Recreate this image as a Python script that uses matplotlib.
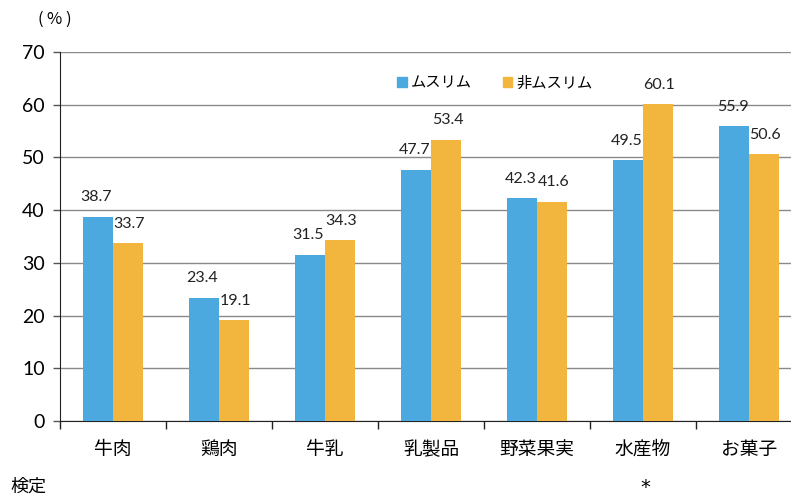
import matplotlib
matplotlib.use("Agg")
import matplotlib.pyplot as plt
from matplotlib.patches import Patch
import numpy as np

plt.rcParams['font.family'] = ['Noto Sans CJK JP', 'DejaVu Sans']
NUM_FONT = ['Lato', 'DejaVu Sans']

categories = ["牛肉", "鶏肉", "牛乳", "乳製品", "野菜果実", "水産物", "お菓子"]
muslim = [38.7, 23.4, 31.5, 47.7, 42.3, 49.5, 55.9]
non_muslim = [33.7, 19.1, 34.3, 53.4, 41.6, 60.1, 50.6]
significance = ["", "", "", "", "", "*", ""]
series_names = ["ムスリム", "非ムスリム"]

blue = "#4BA9DF"
orange = "#F2B63E"

fig = plt.figure(figsize=(7.91, 4.95), dpi=100)
ax = fig.add_axes([60 / 791, 1 - 421 / 495, 742 / 791, (421 - 52) / 495])

x = np.arange(len(categories))
w = 0.285
b1 = ax.bar(x - w / 2, muslim, w, color=blue, zorder=3)
b2 = ax.bar(x + w / 2, non_muslim, w, color=orange, zorder=3)

for bars, vals, dx in ((b1, muslim, -1), (b2, non_muslim, 1)):
    for rect, v in zip(bars, vals):
        ax.annotate(f"{v:.1f}", (rect.get_x() + rect.get_width() / 2, v),
                    xytext=(dx, 9), textcoords="offset points",
                    ha="center", va="bottom", fontsize=11.5, color="#222222",
                    family=NUM_FONT, zorder=4)

ax.set_xlim(-0.5, len(categories) - 0.5)
ax.set_ylim(0, 70)
ax.set_yticks(range(0, 71, 10))
ax.yaxis.grid(True, color="#8a8a8a", linewidth=1.0, zorder=0)
ax.set_axisbelow(True)

ax.set_xticks(x)
ax.set_xticklabels(categories, fontsize=13.5)
ax.set_xticks(np.arange(-0.5, len(categories), 1), minor=True)
ax.tick_params(axis="x", which="major", length=0, pad=13)
ax.tick_params(axis="x", which="minor", length=6, width=1, color="#222222")
ax.tick_params(axis="y", length=5, width=1, color="#555555", pad=6)
for lbl in ax.get_yticklabels():
    lbl.set_fontfamily(NUM_FONT)
    lbl.set_fontsize(14)

for side in ("top", "right"):
    ax.spines[side].set_visible(False)
ax.spines["left"].set_color("#222222")
ax.spines["bottom"].set_color("#222222")

# unit label with wide parentheses
unit_y = 1 - 19 / 495
fig.text(40 / 791, unit_y, "(", ha="center", va="center", fontsize=12)
fig.text(54 / 791, unit_y, "%", ha="center", va="center", fontsize=12)
fig.text(68 / 791, unit_y, ")", ha="center", va="center", fontsize=12)

fig.text(10 / 791, 1 - 487 / 495, "検定", ha="left", va="center", fontsize=13)
for i, s in enumerate(significance):
    if s:
        xf = ax.transData.transform((i, 0))[0] / fig.bbox.width
        fig.text(xf + 2 / 791, 1 - 487 / 495, s, ha="center", va="center",
                 fontsize=14, family=['DejaVu Sans'])

handles = [Patch(color=blue, label=series_names[0]),
           Patch(color=orange, label=series_names[1])]
fig.legend(handles=handles, loc="center", bbox_to_anchor=(495 / 791, 1 - 83 / 495),
           ncol=2, frameon=False, fontsize=11, handlelength=0.6, handleheight=0.6,
           handletextpad=0.3, columnspacing=2.0)

fig.savefig("out.png", dpi=100)
